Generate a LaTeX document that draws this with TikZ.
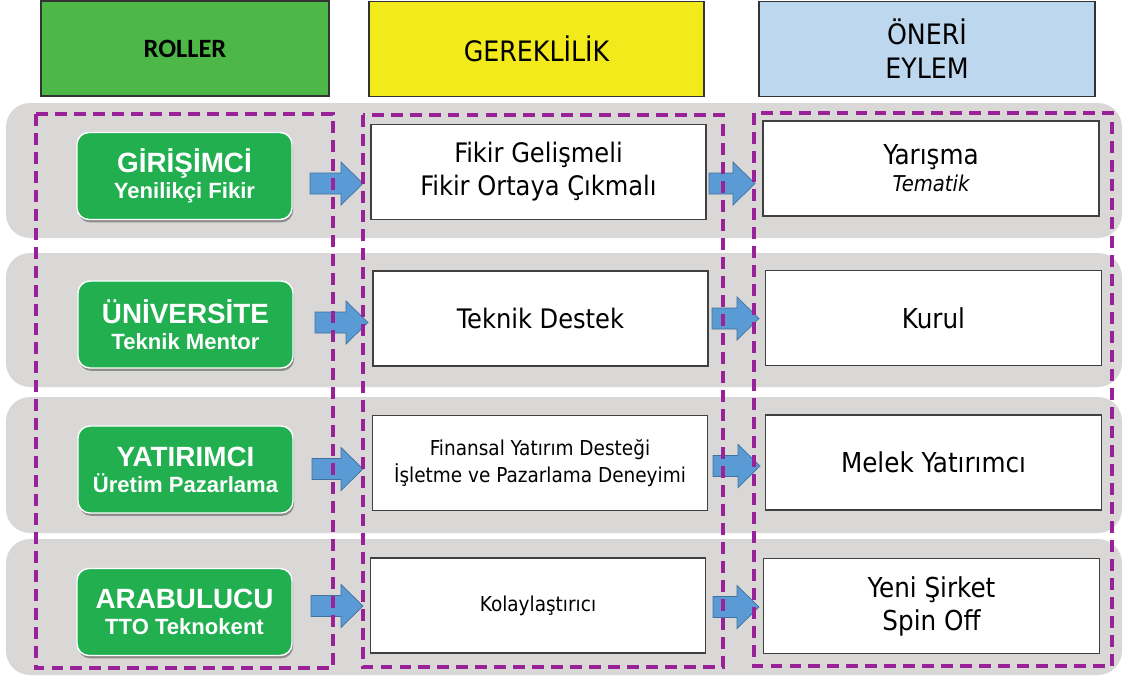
\documentclass[tikz,border=0pt]{standalone}
\usepackage{fontspec}
\setmainfont{DejaVu Sans Condensed}
\newfontfamily\rolefont{Liberation Sans}
\newfontfamily\headfont{Carlito}
\usetikzlibrary{calc,shadows}

\definecolor{rolgreen}{RGB}{77,183,72}
\definecolor{gerekyellow}{RGB}{242,234,26}
\definecolor{oneriblue}{RGB}{189,215,238}
\definecolor{bandgrey}{RGB}{217,216,215}
\definecolor{rolebox}{RGB}{33,175,80}
\definecolor{arrowfill}{RGB}{91,155,213}
\definecolor{arrowline}{RGB}{65,113,156}
\definecolor{dashpurple}{RGB}{153,34,153}

\newcommand{\blockarr}[2]{\draw[barrow] ($(#1)+(0,-10.5)$) -- ($(#2)+(-22,-10.5)$) -- ($(#2)+(-22,-21.5)$) -- (#2) -- ($(#2)+(-22,21.5)$) -- ($(#2)+(-22,10.5)$) -- ($(#1)+(0,10.5)$) -- cycle;}

\begin{document}
\begin{tikzpicture}[x=0.025cm,y=-0.025cm]
\tikzstyle{every node}+=[inner sep=0pt]
\tikzstyle{header}=[draw=black!80, line width=0.8pt, minimum height=2.375cm, align=center]
\tikzstyle{band}=[fill=bandgrey, rounded corners=0.6cm]
\tikzstyle{role}=[fill=rolebox, draw=white, line width=1pt, rounded corners=0.3cm, minimum width=5.375cm, minimum height=2.175cm, align=center, text=white, font=\rolefont\bfseries\fontsize{15.7}{18.4}\selectfont, drop shadow={shadow xshift=0.8pt, shadow yshift=-2pt, opacity=0.35, fill=black}]
\tikzstyle{need}=[fill=white, draw=black!75, line width=0.8pt, minimum width=8.375cm, minimum height=2.375cm, align=center, font=\fontsize{19.1}{23.4}\selectfont]
\tikzstyle{small}=[font=\fontsize{14.6}{19}\selectfont]
\tikzstyle{action}=[need, minimum width=8.4cm, font=\fontsize{19.5}{23.4}\selectfont]
\tikzstyle{barrow}=[fill=arrowfill, draw=arrowline, line width=0.5pt]
\tikzstyle{group}=[draw=dashpurple, line width=2.3pt, dash pattern=on 8.5pt off 5pt]
\useasboundingbox (0,0) rectangle (1123,677);
% basliklar
\node[header, fill=rolgreen, minimum width=7.2cm, font=\headfont\bfseries\fontsize{18.8}{22}\selectfont] (hrol) at (185,48.5) {ROLLER};
\node[header, fill=gerekyellow, minimum width=8.375cm, font=\fontsize{20}{24}\selectfont] (hger) at (536.5,49) {GEREKLİLİK};
\node[header, fill=oneriblue, minimum width=8.4cm, font=\fontsize{20}{24}\selectfont] (hone) at (927,49) {ÖNERİ\\EYLEM};
% gri seritler
\fill[band] (6,103) rectangle (1122,238);
\fill[band] (6,253) rectangle (1122,387);
\fill[band] (6,397) rectangle (1122,533);
\fill[band] (6,539) rectangle (1122,675);
% oklar
\coordinate (a1s) at (310,183.5); \coordinate (a1e) at (363,183.5);
\coordinate (a2s) at (315,322.5); \coordinate (a2e) at (368,322.5);
\coordinate (a3s) at (312,469); \coordinate (a3e) at (363,469);
\coordinate (a4s) at (311,606); \coordinate (a4e) at (363,606);
\coordinate (b1s) at (709,183.5); \coordinate (b1e) at (755,183.5);
\coordinate (b2s) at (712,318.5); \coordinate (b2e) at (759,318.5);
\coordinate (b3s) at (713,466); \coordinate (b3e) at (760,466);
\coordinate (b4s) at (713,607); \coordinate (b4e) at (759,607);
\blockarr{a1s}{a1e}
\blockarr{a2s}{a2e}
\blockarr{a3s}{a3e}
\blockarr{a4s}{a4e}
\blockarr{b1s}{b1e}
\blockarr{b2s}{b2e}
\blockarr{b3s}{b3e}
\blockarr{b4s}{b4e}
% roller
\node[role] (rol1) at (184.5,176) {{\fontsize{19.8}{18.4}\selectfont GİRİŞİMCİ}\\Yenilikçi Fikir};
\node[role] (rol2) at (185.5,324.5) {{\fontsize{19.8}{18.4}\selectfont ÜNİVERSİTE}\\Teknik Mentor};
\node[role] (rol3) at (185.5,469.5) {{\fontsize{19.8}{18.4}\selectfont YATIRIMCI}\\Üretim Pazarlama};
\node[role] (rol4) at (184.5,612) {{\fontsize{19.8}{18.4}\selectfont ARABULUCU}\\TTO Teknokent};
% gereklilik
\node[need] (ger1) at (538.5,172) {Fikir Gelişmeli\\Fikir Ortaya Çıkmalı};
\node[need] (ger2) at (540.5,318.5) {Teknik Destek};
\node[need, small] (ger3) at (540,463) {Finansal Yatırım Desteği\\İşletme ve Pazarlama Deneyimi};
\node[need, small] (ger4) at (538,605.5) {Kolaylaştırıcı};
% oneri eylem
\node[action] (one1) at (931,168.5) {Yarışma\\[-4pt]{\itshape\fontsize{15.5}{16}\selectfont Tematik}};
\node[action] (one2) at (933.5,318) {Kurul};
\node[action] (one3) at (933.5,462.5) {Melek Yatırımcı};
\node[action] (one4) at (931.5,606) {Yeni Şirket\\Spin Off};
% kesikli gruplar
\draw[group] (36,114) rectangle (333,668);
\draw[group] (363,115) rectangle (723,667);
\draw[group] (754,113) rectangle (1112,666);
\end{tikzpicture}
\end{document}
